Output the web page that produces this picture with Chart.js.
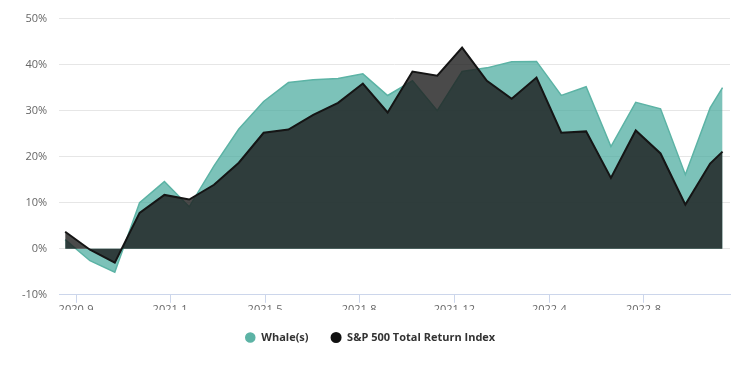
<!DOCTYPE html>
<html>
<head>
<meta charset="utf-8">
<script src="https://cdn.jsdelivr.net/npm/chart.js@4"></script>
<style>
  html, body { margin: 0; padding: 0; background: #fff; }
  #wrap { width: 750px; height: 369px; }
</style>
</head>
<body>
<div id="wrap"><canvas id="chart"></canvas></div>
<script>
// month offsets from the first observation (last point is mid-month)
const months = [0,1,2,3,4,5,6,7,8,9,10,11,12,13,14,15,16,17,18,19,20,21,22,23,24,25,26,26.5];

const whale = [2.0,-2.6,-5.1,10.0,14.6,9.1,18.0,26.0,32.0,36.1,36.7,37.0,38.0,33.3,36.5,30.0,38.5,39.3,40.6,40.7,33.3,35.2,22.2,31.8,30.4,16.1,30.6,35.0];
const sp500 = [3.7,-0.2,-3.0,7.8,11.7,10.7,13.9,18.7,25.2,25.9,29.1,31.7,35.9,29.6,38.5,37.6,43.7,36.5,32.6,37.2,25.2,25.5,15.4,25.7,20.7,9.6,18.5,21.1];

const tickMonths = [0.44, 4.23, 8.06, 11.85, 15.69, 19.52, 23.31];
const tickLabels = ["2020-9", "2021-1", "2021-5", "2021-8", "2021-12", "2022-4", "2022-8"];

const toPoints = vals => vals.map((v, i) => ({ x: months[i], y: v }));

Chart.defaults.font.family = "'Open Sans', 'DejaVu Sans', sans-serif";

new Chart(document.getElementById('chart'), {
  type: 'line',
  data: {
    datasets: [
      {
        label: "Whale(s)",
        data: toPoints(whale),
        borderColor: "#5cb3a5",
        backgroundColor: "rgba(68,168,155,0.7)",
        borderWidth: 1.5,
        pointRadius: 0,
        fill: 'origin',
        tension: 0,
        order: 1
      },
      {
        label: "S&P 500 Total Return Index",
        data: toPoints(sp500),
        borderColor: "#151515",
        backgroundColor: "rgba(29,29,29,0.8)",
        borderWidth: 2,
        pointRadius: 0,
        fill: 'origin',
        tension: 0,
        order: 0
      }
    ]
  },
  options: {
    responsive: true,
    maintainAspectRatio: false,
    animation: false,
    layout: { padding: { top: 13, right: 20, left: 10, bottom: 16 } },
    scales: {
      x: {
        type: 'linear',
        min: -0.24,
        max: 26.8,
        afterBuildTicks: scale => { scale.ticks = tickMonths.map(v => ({ value: v })); },
        afterFit: scale => { scale.height -= 6; },
        ticks: {
          autoSkip: false,
          maxRotation: 0,
          color: "#666",
          font: { size: 11 },
          padding: 0,
          callback: (v, i) => tickLabels[i]
        },
        grid: { drawOnChartArea: false, drawTicks: true, tickLength: 8, color: "#ccd6eb" },
        border: { color: "#ccd6eb" }
      },
      y: {
        min: -10,
        max: 50,
        ticks: {
          stepSize: 10,
          color: "#666",
          font: { size: 11 },
          padding: 12,
          callback: v => v + "%"
        },
        grid: { color: "#e6e6e6", drawTicks: false },
        border: { display: false }
      }
    },
    plugins: {
      legend: {
        position: 'bottom',
        labels: {
          usePointStyle: true,
          pointStyle: 'circle',
          boxWidth: 12,
          boxHeight: 6.4,
          padding: 22,
          color: "#333",
          font: { size: 11, weight: 'bold' },
          sort: (a, b) => a.datasetIndex - b.datasetIndex,
          generateLabels: chart => Chart.defaults.plugins.legend.labels.generateLabels(chart).map(l => {
            l.fillStyle = l.datasetIndex === 0 ? "#5cb3a5" : "#111";
            l.strokeStyle = l.fillStyle;
            return l;
          })
        }
      },
      tooltip: { enabled: false }
    }
  }
});
</script>
</body>
</html>
